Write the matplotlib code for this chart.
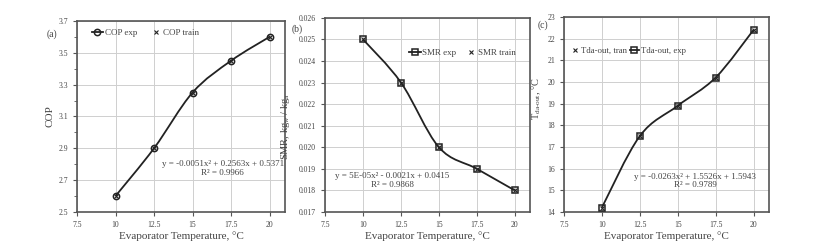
import matplotlib
matplotlib.use("Agg")
import matplotlib.pyplot as plt
from matplotlib.path import Path
from matplotlib.patches import PathPatch
from matplotlib.lines import Line2D
from matplotlib.ticker import FormatStrFormatter

plt.rcParams['font.family'] = ['Liberation Serif', 'DejaVu Serif']
plt.rcParams['mathtext.fontset'] = 'custom'
plt.rcParams['mathtext.rm'] = 'Liberation Serif'
plt.rcParams['mathtext.it'] = 'Liberation Serif:italic'

# data
evap_temp = [10, 12.5, 15, 17.5, 20]
cop_exp = [2.6, 2.9, 3.25, 3.45, 3.6]
cop_train = [2.6, 2.9, 3.25, 3.45, 3.6]
smr_exp = [0.025, 0.023, 0.020, 0.019, 0.018]
smr_train = [0.025, 0.023, 0.020, 0.019, 0.018]
tda_exp = [14.2, 17.5, 18.9, 20.2, 22.4]
tda_train = [14.2, 17.5, 18.9, 20.2, 22.4]

x_ticks = [7.5, 10, 12.5, 15, 17.5, 20]
x_ticklabels = ['7.5', '10', '12.5', '15', '17.5', '20']
cop_ticks = [2.5, 2.7, 2.9, 3.1, 3.3, 3.5, 3.7]
cop_minor = [2.6, 2.8, 3.0, 3.2, 3.4, 3.6]
smr_ticks = [0.017, 0.018, 0.019, 0.020, 0.021, 0.022, 0.023, 0.024, 0.025, 0.026]
tda_ticks = [14, 15, 16, 17, 18, 19, 20, 21, 22, 23]

eq_a = "y = -0.0051x\u00b2 + 0.2563x + 0.5371\nR\u00b2 = 0.9966"
eq_b = "y = 5E-05x\u00b2 - 0.0021x + 0.0415\nR\u00b2 = 0.9868"
eq_c = "y = -0.0263x\u00b2 + 1.5526x + 1.5943\nR\u00b2 = 0.9789"

TXT = '#444444'
GRID = '#cfcfcf'
SPINE = '#555555'
LINE = '#222222'


def smooth_curve(ax, xs, ys):
    # excel-like smoothed line: bezier segments through the points
    n = len(xs)
    verts = [(xs[0], ys[0])]
    codes = [Path.MOVETO]
    for i in range(n - 1):
        p0 = (xs[max(i - 1, 0)], ys[max(i - 1, 0)])
        p1 = (xs[i], ys[i])
        p2 = (xs[i + 1], ys[i + 1])
        p3 = (xs[min(i + 2, n - 1)], ys[min(i + 2, n - 1)])
        c1 = (p1[0] + (p2[0] - p0[0]) / 6, p1[1] + (p2[1] - p0[1]) / 6)
        c2 = (p2[0] - (p3[0] - p1[0]) / 6, p2[1] - (p3[1] - p1[1]) / 6)
        verts += [c1, c2, p2]
        codes += [Path.CURVE4] * 3
    ax.add_patch(PathPatch(Path(verts, codes), fill=False, lw=1.3, ec=LINE, zorder=3))


def setup(ax, yticks, yfmt, minor=None):
    ax.set_xlim(7.5, 21)
    ax.set_ylim(yticks[0], yticks[-1])
    ax.set_xticks(x_ticks)
    ax.set_xticklabels(x_ticklabels)
    ax.set_yticks(yticks)
    ax.yaxis.set_major_formatter(FormatStrFormatter(yfmt))
    if minor:
        ax.set_yticks(minor, minor=True)
    ax.grid(True, color=GRID, lw=0.7)
    ax.set_axisbelow(True)
    for s in ax.spines.values():
        s.set_color(SPINE)
        s.set_linewidth(1.2)
    ax.tick_params(labelsize=5.5, colors=SPINE, labelcolor=TXT, length=3, width=0.8)
    ax.tick_params(axis='y', which='minor', length=2, width=0.6, colors=SPINE)
    ax.set_xlabel('Evaporator Temperature, \u00b0C', fontsize=8, color=TXT, labelpad=2)


fig = plt.figure(figsize=(8.19, 2.52), dpi=100)
ax1 = fig.add_axes([0.094, 0.159, 0.254, 0.758])
ax2 = fig.add_axes([0.397, 0.159, 0.250, 0.770])
ax3 = fig.add_axes([0.6886, 0.159, 0.250, 0.774])

# (a) COP
setup(ax1, cop_ticks, '%.1f', minor=cop_minor)
smooth_curve(ax1, evap_temp, cop_exp)
ax1.plot(evap_temp, cop_exp, ls='none', marker='o', ms=4.5, mfc='none', mec=LINE, mew=1.1, zorder=4)
ax1.plot(evap_temp, cop_train, ls='none', marker='x', ms=3, mec=LINE, mew=0.8, zorder=5)
ax1.set_ylabel('COP', fontsize=8, color=TXT)
ax1.yaxis.set_label_coords(-0.106, 0.5)
h1 = [Line2D([], [], color=LINE, lw=1.3, marker='o', ms=4.5, mfc='none', mew=1.1),
      Line2D([], [], ls='none', marker='x', ms=3, color=LINE, mew=0.8)]
ax1.legend(h1, ['COP exp', 'COP train'], loc='center left', bbox_to_anchor=(0.07, 0.935), ncol=2,
           frameon=False, fontsize=6.5, handlelength=1.3, handletextpad=0.15, columnspacing=1.4,
           labelcolor=TXT, borderpad=0, borderaxespad=0)
ax1.text(0.70, 0.228, eq_a, transform=ax1.transAxes, fontsize=6.5, color=TXT, ha='center', va='center',
         multialignment='center', linespacing=1.1)
fig.text(52 / 819, 1 - 34 / 252, '(a)', fontsize=7, color=TXT, ha='center', va='center')

# (b) SMR
setup(ax2, smr_ticks, '%.3f')
smooth_curve(ax2, evap_temp, smr_exp)
ax2.plot(evap_temp, smr_exp, ls='none', marker='s', ms=4.2, mfc='none', mec=LINE, mew=1.1, zorder=4)
ax2.plot(evap_temp, smr_train, ls='none', marker='x', ms=3, mec=LINE, mew=0.8, zorder=5)
ax2.set_ylabel('SMR, kg$_{\\mathrm{w}}$ / kg$_{\\mathrm{a}}$', fontsize=7.5, color=TXT)
ax2.yaxis.set_label_coords(-0.16, 0.44)
h2 = [Line2D([], [], color=LINE, lw=1.3, marker='s', ms=4.2, mfc='none', mew=1.1),
      Line2D([], [], ls='none', marker='x', ms=3, color=LINE, mew=0.8)]
ax2.legend(h2, ['SMR exp', 'SMR train'], loc='center left', bbox_to_anchor=(0.41, 0.82), ncol=2,
           frameon=False, fontsize=6.5, handlelength=1.3, handletextpad=0.15, columnspacing=1.0,
           labelcolor=TXT, borderpad=0, borderaxespad=0)
ax2.text(0.327, 0.162, eq_b, transform=ax2.transAxes, fontsize=6.5, color=TXT, ha='center', va='center',
         multialignment='center', linespacing=1.1)
fig.text(297 / 819, 1 - 29 / 252, '(b)', fontsize=7, color=TXT, ha='center', va='center')

# (c) Tda-out
setup(ax3, tda_ticks, '%d')
smooth_curve(ax3, evap_temp, tda_exp)
ax3.plot(evap_temp, tda_exp, ls='none', marker='s', ms=4.2, mfc='none', mec=LINE, mew=1.1, zorder=4)
ax3.plot(evap_temp, tda_train, ls='none', marker='x', ms=3, mec=LINE, mew=0.8, zorder=5)
ax3.set_ylabel('T$_{\\mathrm{da\u2010out}}$, \u00b0C', fontsize=7.5, color=TXT)
ax3.yaxis.set_label_coords(-0.10, 0.58)
h3 = [Line2D([], [], ls='none', marker='x', ms=3, color=LINE, mew=0.8),
      Line2D([], [], color=LINE, lw=1.3, marker='s', ms=4.2, mfc='none', mew=1.1)]
ax3.legend(h3, ['Tda-out, tran', 'Tda-out, exp'], loc='center left', bbox_to_anchor=(0.03, 0.825), ncol=2,
           frameon=False, fontsize=6.3, handlelength=1.1, handletextpad=0.15, columnspacing=0.3,
           labelcolor=TXT, borderpad=0, borderaxespad=0)
ax3.text(0.64, 0.159, eq_c, transform=ax3.transAxes, fontsize=6.5, color=TXT, ha='center', va='center',
         multialignment='center', linespacing=1.1)
fig.text(543 / 819, 1 - 25 / 252, '(c)', fontsize=7, color=TXT, ha='center', va='center')

fig.savefig('out.png', dpi=100)
